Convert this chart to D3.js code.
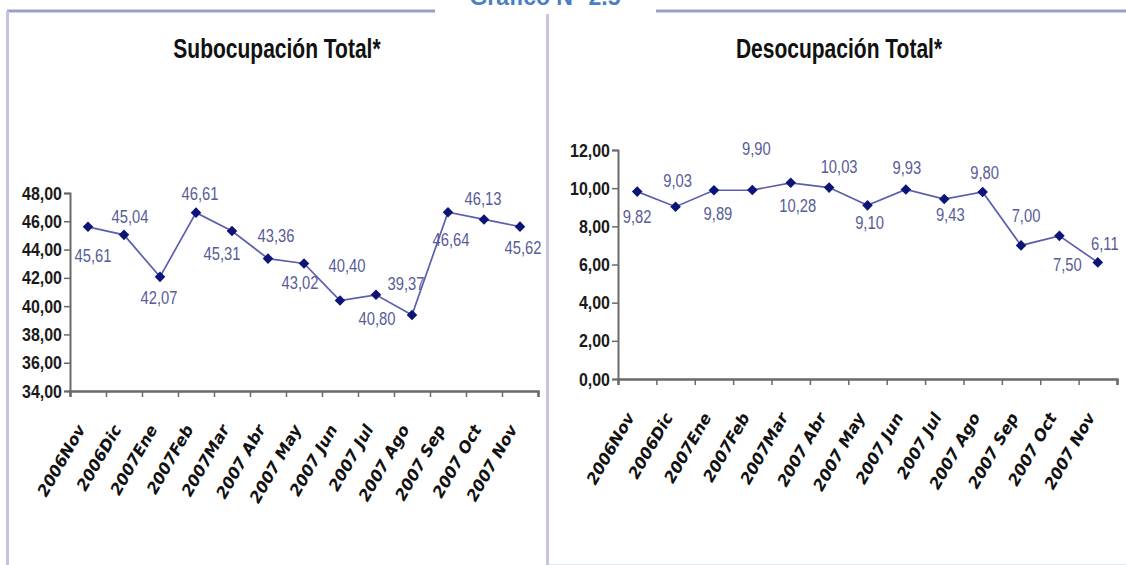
<!DOCTYPE html>
<html>
<head>
<meta charset="utf-8">
<script src="https://cdn.jsdelivr.net/npm/d3@7"></script>
<style>
  html, body { margin: 0; padding: 0; background: #ffffff; }
  svg { display: block; }
</style>
</head>
<body>
<svg id="chart" width="1126" height="565"></svg>
<script>
// Categories (months) shared by both panels
const categories = ["2006Nov", "2006Dic", "2007Ene", "2007Feb", "2007Mar", "2007 Abr", "2007 May",
                    "2007 Jun", "2007 Jul", "2007 Ago", "2007 Sep", "2007 Oct", "2007 Nov"];

// Subocupación total (%)
const subocupacion = [45.61, 45.04, 42.07, 46.61, 45.31, 43.36, 43.02, 40.40, 40.80, 39.37, 46.64, 46.13, 45.62];
// Desocupación total (%)
const desocupacion = [9.82, 9.03, 9.89, 9.90, 10.28, 10.03, 9.10, 9.93, 9.43, 9.80, 7.00, 7.50, 6.11];

// Y-axis tick values
const subTicks = [34, 36, 38, 40, 42, 44, 46, 48];
const desTicks = [0, 2, 4, 6, 8, 10, 12];

// Titles
const mainTitle = "Gráfico N° 2.5";
const subTitle = "Subocupación Total*";
const desTitle = "Desocupación Total*";

// Data-label placement (offset of the label centre from its point, px)
const subLabelDx = [5, 6, -1, 4, -10, 8, -4, 7, 1, -6, 3, -1, 3];
const subLabelDy = [29, -18, 21, -19, 22, -23, 19, -35, 24, -32, 27, -21, 21];
const desLabelDx = [0, 2, 4, 4, 7, 10, 2, 1, 6, 2, 5, 8, 7];
const desLabelDy = [25, -26, 23, -42, 23, -21, 17, -22, 15, -19, -30, 29, -19];

const es = d3.formatLocale({ decimal: ",", thousands: ".", grouping: [3], currency: ["", ""] });
const fmt = es.format(".2f");

const SANS = "Liberation Sans, Arial, sans-serif";

// Squeeze text horizontally to imitate a condensed face
function condense(sel, k) {
  sel.each(function () {
    const len = this.getComputedTextLength();
    d3.select(this).attr("textLength", len * k).attr("lengthAdjust", "spacingAndGlyphs");
  });
}

const svg = d3.select("#chart");

// Frame: top rule broken by the figure caption, left border and divider
const frame = svg.append("g");
frame.append("line").attr("x1", 7).attr("x2", 435).attr("y1", 11).attr("y2", 11)
  .attr("stroke", "#9c9fc8").attr("stroke-width", 3);
frame.append("line").attr("x1", 656).attr("x2", 1126).attr("y1", 11).attr("y2", 11)
  .attr("stroke", "#9c9fc8").attr("stroke-width", 3);
frame.append("line").attr("x1", 7.5).attr("x2", 7.5).attr("y1", 11).attr("y2", 565)
  .attr("stroke", "#c3c5e0").attr("stroke-width", 3);
frame.append("line").attr("x1", 547.5).attr("x2", 547.5).attr("y1", 14).attr("y2", 565)
  .attr("stroke", "#c6c7df").attr("stroke-width", 3);
frame.append("line").attr("x1", 549).attr("x2", 1126).attr("y1", 564.5).attr("y2", 564.5)
  .attr("stroke", "#e6e6ee").attr("stroke-width", 1);

// Figure caption (only its lower part shows above the frame)
svg.append("text")
  .attr("x", 545).attr("y", 5)
  .attr("text-anchor", "middle")
  .attr("font-family", SANS)
  .attr("font-weight", "bold")
  .attr("font-size", 23)
  .attr("fill", "#4a7fc2")
  .text(mainTitle);

function drawPanel(opts) {
  const { values, ticks, title, titleX, x0, x1, yTop, yBottom, labelDx, labelDy } = opts;
  const g = svg.append("g");

  const y = d3.scaleLinear().domain([ticks[0], ticks[ticks.length - 1]]).range([yBottom, yTop]);
  const band = d3.scaleBand().domain(categories).range([x0, x1]).padding(0);
  const edge = d3.scaleLinear().domain([0, categories.length]).range([x0, x1]);

  // Title
  g.append("text")
    .attr("x", titleX).attr("y", 58)
    .attr("text-anchor", "middle")
    .attr("font-family", SANS)
    .attr("font-size", 28)
    .attr("font-weight", "bold")
    .attr("fill", "#111")
    .text(title)
    .call(condense, 0.75);

  // Y axis
  const yAxis = g.append("g")
    .attr("transform", `translate(${x0},0)`)
    .call(d3.axisLeft(y).tickValues(ticks).tickSize(6).tickPadding(2).tickFormat(fmt));
  yAxis.select(".domain").attr("stroke", "#6a6a6a").attr("stroke-width", 2);
  yAxis.selectAll(".tick line").attr("stroke", "#6a6a6a").attr("stroke-width", 1.5);
  yAxis.selectAll(".tick text")
    .attr("font-family", SANS)
    .attr("font-size", 19)
    .attr("font-weight", "bold")
    .attr("fill", "#1a1a1a")
    .call(condense, 0.84);

  // X axis: tick marks at category boundaries
  const xAxis = g.append("g")
    .attr("transform", `translate(0,${yBottom})`)
    .call(d3.axisBottom(edge).tickValues(d3.range(categories.length + 1)).tickSize(6).tickFormat(""));
  xAxis.select(".domain").attr("stroke", "#6a6a6a").attr("stroke-width", 2.5);
  xAxis.selectAll(".tick line").attr("stroke", "#6a6a6a").attr("stroke-width", 1.5);

  // Rotated category labels
  g.append("g").selectAll("text")
    .data(categories)
    .join("text")
    .attr("transform", d => `translate(${band(d) + band.bandwidth() / 2 - 2},${yBottom + 38}) rotate(-60)`)
    .attr("text-anchor", "end")
    .attr("font-family", "DejaVu Sans, Verdana, sans-serif")
    .attr("font-weight", "bold")
    .attr("font-style", "italic")
    .attr("font-size", 16)
    .attr("fill", "#111")
    .text(d => d);

  const cx = (d, i) => band(categories[i]) + band.bandwidth() / 2;

  // Series line
  g.append("path")
    .datum(values)
    .attr("fill", "none")
    .attr("stroke", "#5a5fae")
    .attr("stroke-width", 1.7)
    .attr("d", d3.line().x(cx).y(d => y(d)));

  // Diamond markers
  g.append("g").selectAll("path")
    .data(values)
    .join("path")
    .attr("transform", (d, i) => `translate(${cx(d, i)},${y(d)}) rotate(45)`)
    .attr("d", d3.symbol().type(d3.symbolSquare).size(56))
    .attr("fill", "#0c1478");

  // Value labels
  g.append("g").selectAll("text")
    .data(values)
    .join("text")
    .attr("x", (d, i) => cx(d, i) + labelDx[i])
    .attr("y", (d, i) => y(d) + labelDy[i])
    .attr("dy", "0.36em")
    .attr("text-anchor", "middle")
    .attr("font-family", SANS)
    .attr("font-size", 18)
    .attr("fill", "#585c98")
    .text(d => fmt(d))
    .call(condense, 0.82);
}

drawPanel({
  values: subocupacion, ticks: subTicks, title: subTitle, titleX: 277,
  x0: 70, x1: 538, yTop: 193, yBottom: 391,
  labelDx: subLabelDx, labelDy: subLabelDy
});

drawPanel({
  values: desocupacion, ticks: desTicks, title: desTitle, titleX: 839,
  x0: 618, x1: 1117, yTop: 150, yBottom: 379,
  labelDx: desLabelDx, labelDy: desLabelDy
});
</script>
</body>
</html>
